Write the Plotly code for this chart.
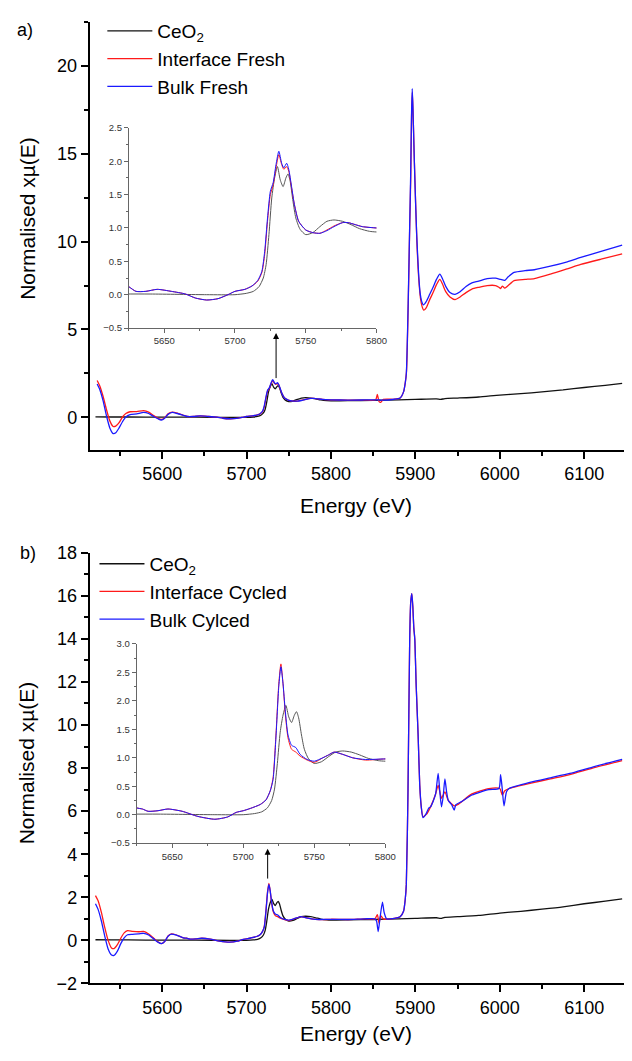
import plotly.graph_objects as go

# ---------------- data ----------------
ceo2_E = [5521, 5540, 5560, 5600, 5640, 5680, 5700, 5708, 5713, 5717, 5720, 5722, 5724, 5726,
          5728, 5730, 5732, 5734, 5736, 5737.5, 5739, 5741, 5743, 5746, 5750, 5755, 5760, 5765,
          5770, 5776, 5782, 5788, 5795, 5800, 5820, 5850, 5880, 5900, 5925, 5930, 5935, 5950,
          5975, 6000, 6025, 6050, 6075, 6100, 6125, 6145]
ceo2_mu = [0.03, 0.02, 0.02, 0.01, 0.01, 0.0, 0.0, 0.02, 0.05, 0.12, 0.25, 0.45, 0.9, 1.45,
           1.75, 1.92, 1.72, 1.62, 1.75, 1.81, 1.7, 1.4, 1.15, 0.98, 0.9, 0.93, 1.02, 1.1,
           1.12, 1.1, 1.05, 0.99, 0.95, 0.94, 0.95, 0.97, 1.0, 1.02, 1.05, 1.02, 1.07, 1.1,
           1.16, 1.27, 1.35, 1.45, 1.56, 1.7, 1.82, 1.93]

fresh_int_E = [5523, 5526, 5530, 5534, 5538, 5542, 5545, 5549, 5553, 5557, 5562, 5570, 5578, 5584,
               5590, 5595, 5599, 5603, 5607, 5612, 5618, 5625, 5630, 5637, 5645, 5655, 5665, 5672,
               5680, 5688, 5695, 5700, 5707, 5712, 5716, 5719, 5721, 5723, 5725, 5727, 5729, 5731,
               5733, 5734.5, 5736.5, 5738, 5740, 5742, 5745, 5750, 5755, 5760, 5765, 5770, 5776,
               5780, 5785, 5790, 5800, 5820, 5840, 5853, 5855, 5857, 5859, 5862, 5875, 5882, 5886,
               5888, 5889.5, 5891.5, 5893.3, 5894.5, 5895.5, 5896.4, 5897.3, 5898.4, 5899.5, 5901.8,
               5904, 5906, 5908, 5910, 5913, 5917, 5921, 5925, 5929, 5932, 5936, 5941, 5947, 5953,
               5960, 5967, 5975, 5985, 5995, 5999, 6001, 6003, 6006, 6010, 6017, 6030, 6041, 6060,
               6080, 6096, 6120, 6145]
fresh_int_mu = [2.1, 1.8, 1.2, 0.45, -0.2, -0.52, -0.5, -0.3, 0.02, 0.22, 0.32, 0.33, 0.38, 0.3,
                0.1, -0.05, -0.12, -0.02, 0.2, 0.3, 0.24, 0.12, 0.05, 0.05, 0.08, 0.05, 0.01, -0.05,
                -0.08, -0.06, 0.0, 0.05, 0.08, 0.13, 0.2, 0.33, 0.6, 1.1, 1.5, 1.65, 1.9, 2.1,
                1.95, 1.88, 1.92, 1.85, 1.6, 1.35, 1.1, 0.97, 0.93, 0.92, 0.97, 1.03, 1.08,
                1.08, 1.05, 1.02, 1.0, 0.98, 0.98, 1.0, 1.3, 0.9, 0.85, 1.02, 1.03, 1.1, 1.45,
                1.95, 2.6, 6.3, 10.8, 13.5, 17.1, 18.5, 17.3, 15.3, 13.5, 10.0,
                7.9, 6.8, 6.3, 6.1, 6.25, 6.7, 7.1, 7.55, 7.85, 7.6, 7.15, 6.85, 6.7, 6.85,
                7.1, 7.3, 7.4, 7.5, 7.5, 7.4, 7.33, 7.47, 7.35, 7.5, 7.78, 7.85, 7.9, 8.15,
                8.45, 8.7, 9.0, 9.3]

fresh_bulk_E = [5523, 5526, 5530, 5534, 5538, 5542, 5545, 5549, 5553, 5557, 5562, 5570, 5578, 5584,
                5590, 5595, 5599, 5603, 5607, 5612, 5618, 5625, 5630, 5637, 5645, 5655, 5665, 5672,
                5680, 5688, 5695, 5700, 5707, 5712, 5716, 5719, 5721, 5723, 5725, 5727, 5729, 5731,
                5733, 5734.5, 5736.5, 5738, 5740, 5742, 5745, 5750, 5755, 5760, 5765, 5770, 5776,
                5780, 5785, 5790, 5800, 5820, 5840, 5855, 5860, 5875, 5882, 5886,
                5888, 5889.3, 5891.5, 5893.3, 5894.4, 5895.5, 5896.3, 5897.2, 5898.3, 5899.3, 5901.5,
                5903.7, 5905.6, 5907.5, 5909.5, 5913, 5917, 5921, 5925, 5929, 5932, 5936, 5941, 5947,
                5953, 5960, 5967, 5975, 5985, 5995, 6001, 6006, 6010, 6017, 6030, 6041, 6060,
                6080, 6096, 6120, 6145]
fresh_bulk_mu = [1.9, 1.6, 0.95, 0.1, -0.6, -0.92, -0.88, -0.6, -0.25, 0.02, 0.15, 0.2, 0.28, 0.22,
                 0.05, -0.08, -0.15, -0.05, 0.17, 0.28, 0.22, 0.12, 0.05, 0.05, 0.08, 0.05, 0.01, -0.05,
                 -0.08, -0.06, 0.0, 0.05, 0.08, 0.13, 0.21, 0.35, 0.65, 1.15, 1.55, 1.68, 1.95, 2.15,
                 1.97, 1.9, 1.97, 1.88, 1.62, 1.35, 1.1, 0.97, 0.93, 0.92, 0.96, 1.02, 1.08,
                 1.08, 1.05, 1.02, 1.0, 0.98, 0.99, 1.0, 0.98, 1.03, 1.1, 1.45,
                 1.95, 2.5, 6.5, 11.0, 13.7, 17.3, 18.7, 17.5, 15.5, 13.7, 10.5,
                 8.3, 7.1, 6.6, 6.4, 6.6, 7.0, 7.4, 7.85, 8.15, 7.9, 7.45, 7.1, 7.0,
                 7.15, 7.45, 7.65, 7.75, 7.9, 7.92, 7.85, 7.8, 8.0, 8.25, 8.35, 8.4, 8.6,
                 8.85, 9.1, 9.45, 9.8]

cyc_int_E = [5521, 5524, 5528, 5532, 5536, 5540, 5543, 5547, 5551, 5555, 5559, 5565, 5572, 5578,
             5584, 5590, 5595, 5599, 5603, 5607, 5611, 5617, 5625, 5629, 5633, 5640, 5647, 5657,
             5668, 5680, 5689, 5695, 5700, 5705, 5712, 5716, 5719, 5721, 5723, 5725, 5726.5, 5728,
             5729.5, 5731.5, 5734, 5737, 5740, 5745, 5750, 5756, 5760, 5764, 5770, 5777, 5786,
             5800, 5820, 5840, 5852, 5855, 5857, 5859, 5862, 5875, 5882, 5886, 5888, 5889.3,
             5891.3, 5893.3, 5894.5, 5895.8, 5897, 5898.2, 5899.3, 5901, 5903.3, 5905.2, 5907,
             5909, 5913, 5918, 5924, 5927, 5929, 5931, 5935, 5939, 5946, 5950, 5967, 5987, 6000,
             6003, 6006, 6011, 6037, 6060, 6083, 6110, 6145]
cyc_int_mu = [2.08, 1.85, 1.3, 0.6, 0.0, -0.35, -0.38, -0.2, 0.1, 0.35, 0.45, 0.42, 0.4, 0.42,
              0.3, 0.1, -0.07, -0.15, -0.05, 0.2, 0.3, 0.25, 0.12, 0.1, 0.06, 0.07, 0.1, 0.06,
              -0.03, -0.08, -0.04, 0.04, 0.07, 0.11, 0.18, 0.26, 0.42, 0.65, 1.4, 2.3, 2.65, 2.3,
              1.8, 1.35, 1.15, 1.1, 1.03, 0.96, 0.92, 1.0, 1.05, 1.1, 1.06, 1.0, 0.96,
              0.98, 0.97, 1.0, 1.0, 1.2, 0.8, 1.15, 1.0, 1.02, 1.1, 1.35, 1.9, 2.6,
              7.0, 14.0, 15.7, 16.1, 15.5, 14.5, 14.0, 11.8, 9.5, 7.2, 6.2,
              5.75, 5.85, 6.2, 6.8, 7.2, 6.9, 6.6, 6.9, 6.5, 6.25, 6.3, 6.8, 7.05, 7.05,
              6.75, 6.95, 7.05, 7.3, 7.5, 7.7, 8.0, 8.35]

cyc_bulk_E = [5521, 5524, 5528, 5532, 5536, 5540, 5543, 5547, 5551, 5555, 5559, 5565, 5572, 5578,
              5584, 5590, 5595, 5599, 5603, 5607, 5611, 5617, 5625, 5629, 5633, 5640, 5647, 5657,
              5668, 5680, 5689, 5695, 5700, 5705, 5712, 5716, 5719, 5721, 5723, 5725, 5726.5, 5728,
              5729.5, 5731.5, 5734, 5737, 5740, 5745, 5750, 5756, 5760, 5764, 5770, 5777, 5786,
              5800, 5820, 5840, 5852, 5854, 5856, 5858, 5861, 5863, 5866, 5875, 5882, 5886, 5888,
              5889.3, 5891.3, 5893.3, 5894.5, 5895.8, 5897, 5898.2, 5899.3, 5901, 5903.3, 5905.2,
              5907, 5909, 5913, 5916, 5918, 5921, 5924, 5927, 5929, 5931, 5933, 5935, 5937, 5939,
              5943, 5946, 5948, 5955, 5967, 5987, 5999, 6001, 6003, 6005, 6008, 6011, 6037, 6060,
              6083, 6110, 6145]
cyc_bulk_mu = [1.7, 1.45, 0.9, 0.2, -0.4, -0.68, -0.7, -0.5, -0.15, 0.12, 0.26, 0.28, 0.3, 0.33,
               0.25, 0.07, -0.08, -0.15, -0.05, 0.19, 0.29, 0.24, 0.12, 0.1, 0.06, 0.07, 0.1, 0.06,
               -0.03, -0.08, -0.04, 0.04, 0.07, 0.11, 0.18, 0.26, 0.42, 0.62, 1.35, 2.25, 2.6, 2.3,
               1.85, 1.4, 1.22, 1.18, 1.06, 0.97, 0.94, 1.0, 1.05, 1.1, 1.06, 1.0, 0.97,
               0.98, 0.97, 1.0, 1.0, 0.9, 0.41, 1.0, 1.78, 1.3, 1.0, 1.02, 1.1, 1.35, 1.9,
               2.6, 7.0, 14.0, 15.7, 16.1, 15.5, 14.5, 14.0, 11.8, 9.5, 7.2,
               6.2, 5.7, 5.9, 6.15, 6.2, 6.45, 6.8, 7.75, 6.9, 6.2, 6.7, 7.5, 6.9, 6.5,
               6.3, 6.05, 6.3, 6.45, 6.75, 7.0, 7.05, 7.7, 7.0, 6.25, 6.9, 7.05, 7.35, 7.55,
               7.75, 8.05, 8.4]

legend_a = ["CeO<sub>2</sub>", "Interface Fresh", "Bulk Fresh"]
legend_b = ["CeO<sub>2</sub>", "Interface Cycled", "Bulk Cylced"]

# ---------------- figure ----------------
W, H = 632, 1061
OFF = 8  # page body margin offset
FONT = "Arial, Liberation Sans, sans-serif"
BLACK, RED, BLUE = "#111111", "#ff1a1a", "#1a1aff"


def xd(p0, p1):
    return [max(0, (p0 - OFF) / W), min(1, (p1 - OFF) / W)]


def yd(top, bottom):
    return [1 - (bottom - OFF) / H, 1 - (top - OFF) / H]


def px(p):
    return (p - OFF) / W


def py(p):
    return 1 - (p - OFF) / H


fig = go.Figure()
line_shape = dict(shape="spline", smoothing=0.6)

panels = [
    ("x", "y", "x2", "y2", "legend", legend_a,
     [(ceo2_E, ceo2_mu, BLACK), (fresh_int_E, fresh_int_mu, RED), (fresh_bulk_E, fresh_bulk_mu, BLUE)]),
    ("x3", "y3", "x4", "y4", "legend2", legend_b,
     [(ceo2_E, ceo2_mu, BLACK), (cyc_int_E, cyc_int_mu, RED), (cyc_bulk_E, cyc_bulk_mu, BLUE)]),
]
for xm, ym, xi, yi, leg, names, series in panels:
    for (E, mu, col), nm in zip(series, names):
        fig.add_trace(go.Scatter(x=E, y=mu, mode="lines", name=nm, xaxis=xm, yaxis=ym,
                                 legend=leg, line=dict(color=col, width=1.3, **line_shape)))
    for (E, mu, col), nm in zip(series, names):
        c = "#555555" if col == BLACK else col
        fig.add_trace(go.Scatter(x=E, y=mu, mode="lines", name=nm, xaxis=xi, yaxis=yi,
                                 showlegend=False, line=dict(color=c, width=1.0, **line_shape)))

main_ax = dict(showline=True, linecolor="black", linewidth=1.6, ticks="outside", ticklen=7,
               tickwidth=1.5, tickcolor="black", showgrid=False, zeroline=False,
               tickfont=dict(family=FONT, size=18, color="black"))
inset_ax = dict(showline=True, linecolor="#666666", linewidth=1, ticks="outside", ticklen=4,
                tickwidth=1, tickcolor="#666666", showgrid=False, zeroline=False,
                tickfont=dict(family=FONT, size=9.5, color="#333333"))

# x range: reference pixel 91 -> 5514 eV, 0.859 px per eV; plot reaches page edge
X0, PPE = 5514, 0.859
x_end = X0 + (632 + OFF - 91) / PPE
mx_minor = dict(dtick=50, ticks="outside", ticklen=4, tickcolor="black", tickwidth=1.5)

fig.update_layout(
    width=W, height=H, autosize=False,
    margin=dict(l=0, r=0, t=0, b=0),
    paper_bgcolor="white", plot_bgcolor="rgba(0,0,0,0)",
    xaxis=dict(domain=xd(91, 632 + OFF), range=[X0, x_end], anchor="y", dtick=100,
               minor=mx_minor, **main_ax),
    yaxis=dict(domain=yd(12, 448), range=[-1.84, 22.5], anchor="x", dtick=5,
               minor=dict(dtick=2.5, ticks="outside", ticklen=4, tickcolor="black", tickwidth=1.5), **main_ax),
    xaxis2=dict(domain=xd(131, 383), range=[5625, 5800], anchor="y2", dtick=50, tick0=5650,
                minor=dict(dtick=25, ticks="outside", ticklen=2, tickcolor="#666666"), **inset_ax),
    yaxis2=dict(domain=yd(120, 324), range=[-0.5, 2.5], anchor="x2", dtick=0.5, tickformat=".1f",
                minor=dict(dtick=0.25, ticks="outside", ticklen=2, tickcolor="#666666"), **inset_ax),
    xaxis3=dict(domain=xd(91, 632 + OFF), range=[X0, x_end], anchor="y3", dtick=100,
                minor=mx_minor, **main_ax),
    yaxis3=dict(domain=yd(553, 992), range=[-2, 18], anchor="x3", dtick=2,
                minor=dict(dtick=1, ticks="outside", ticklen=4, tickcolor="black", tickwidth=1.5), **main_ax),
    xaxis4=dict(domain=xd(139, 392), range=[5625, 5800], anchor="y4", dtick=50, tick0=5650,
                minor=dict(dtick=25, ticks="outside", ticklen=2, tickcolor="#666666"), **inset_ax),
    yaxis4=dict(domain=yd(646, 849), range=[-0.5, 3.0], anchor="x4", dtick=0.5, tickformat=".1f",
                minor=dict(dtick=0.25, ticks="outside", ticklen=2, tickcolor="#666666"), **inset_ax),
    legend=dict(x=96 / W, y=1 + 6 / H, xanchor="left", yanchor="top", bgcolor="rgba(0,0,0,0)",
                font=dict(family=FONT, size=19, color="black"), tracegroupgap=0, itemwidth=45),
    legend2=dict(x=88 / W, y=1 - 537 / H, xanchor="left", yanchor="top", bgcolor="rgba(0,0,0,0)",
                 font=dict(family=FONT, size=19, color="black"), tracegroupgap=0, itemwidth=45),
)

ann = [
    dict(text="a)", x=px(15), y=py(20), xanchor="left", yanchor="middle", size=18),
    dict(text="b)", x=px(18), y=py(553), xanchor="left", yanchor="middle", size=18),
    dict(text="Energy (eV)", x=px(362), y=py(505), xanchor="center", yanchor="middle", size=21),
    dict(text="Energy (eV)", x=px(362), y=py(1043), xanchor="center", yanchor="middle", size=21),
]
for a in ann:
    fig.add_annotation(text=a["text"], xref="paper", yref="paper", x=a["x"], y=a["y"],
                       xanchor=a["xanchor"], yanchor=a["yanchor"], showarrow=False,
                       font=dict(family=FONT, size=a["size"], color="black"))
for yc in (212, 767):
    fig.add_annotation(text="Normalised xµ(E)", xref="paper", yref="paper", x=px(27), y=py(yc),
                       xanchor="center", yanchor="middle", textangle=-90, showarrow=False,
                       font=dict(family=FONT, size=21, color="black"))

# arrows pointing to the insets
fig.add_annotation(x=5735, y=4.8, ax=5735, ay=2.15, xref="x", yref="y", axref="x", ayref="y",
                   text="", showarrow=True, arrowhead=2, arrowsize=1.2, arrowwidth=1, arrowcolor="black")
fig.add_annotation(x=5725, y=4.25, ax=5725, ay=2.8, xref="x3", yref="y3", axref="x3", ayref="y3",
                   text="", showarrow=True, arrowhead=2, arrowsize=1.2, arrowwidth=1, arrowcolor="black")

fig.write_html("out.html")
